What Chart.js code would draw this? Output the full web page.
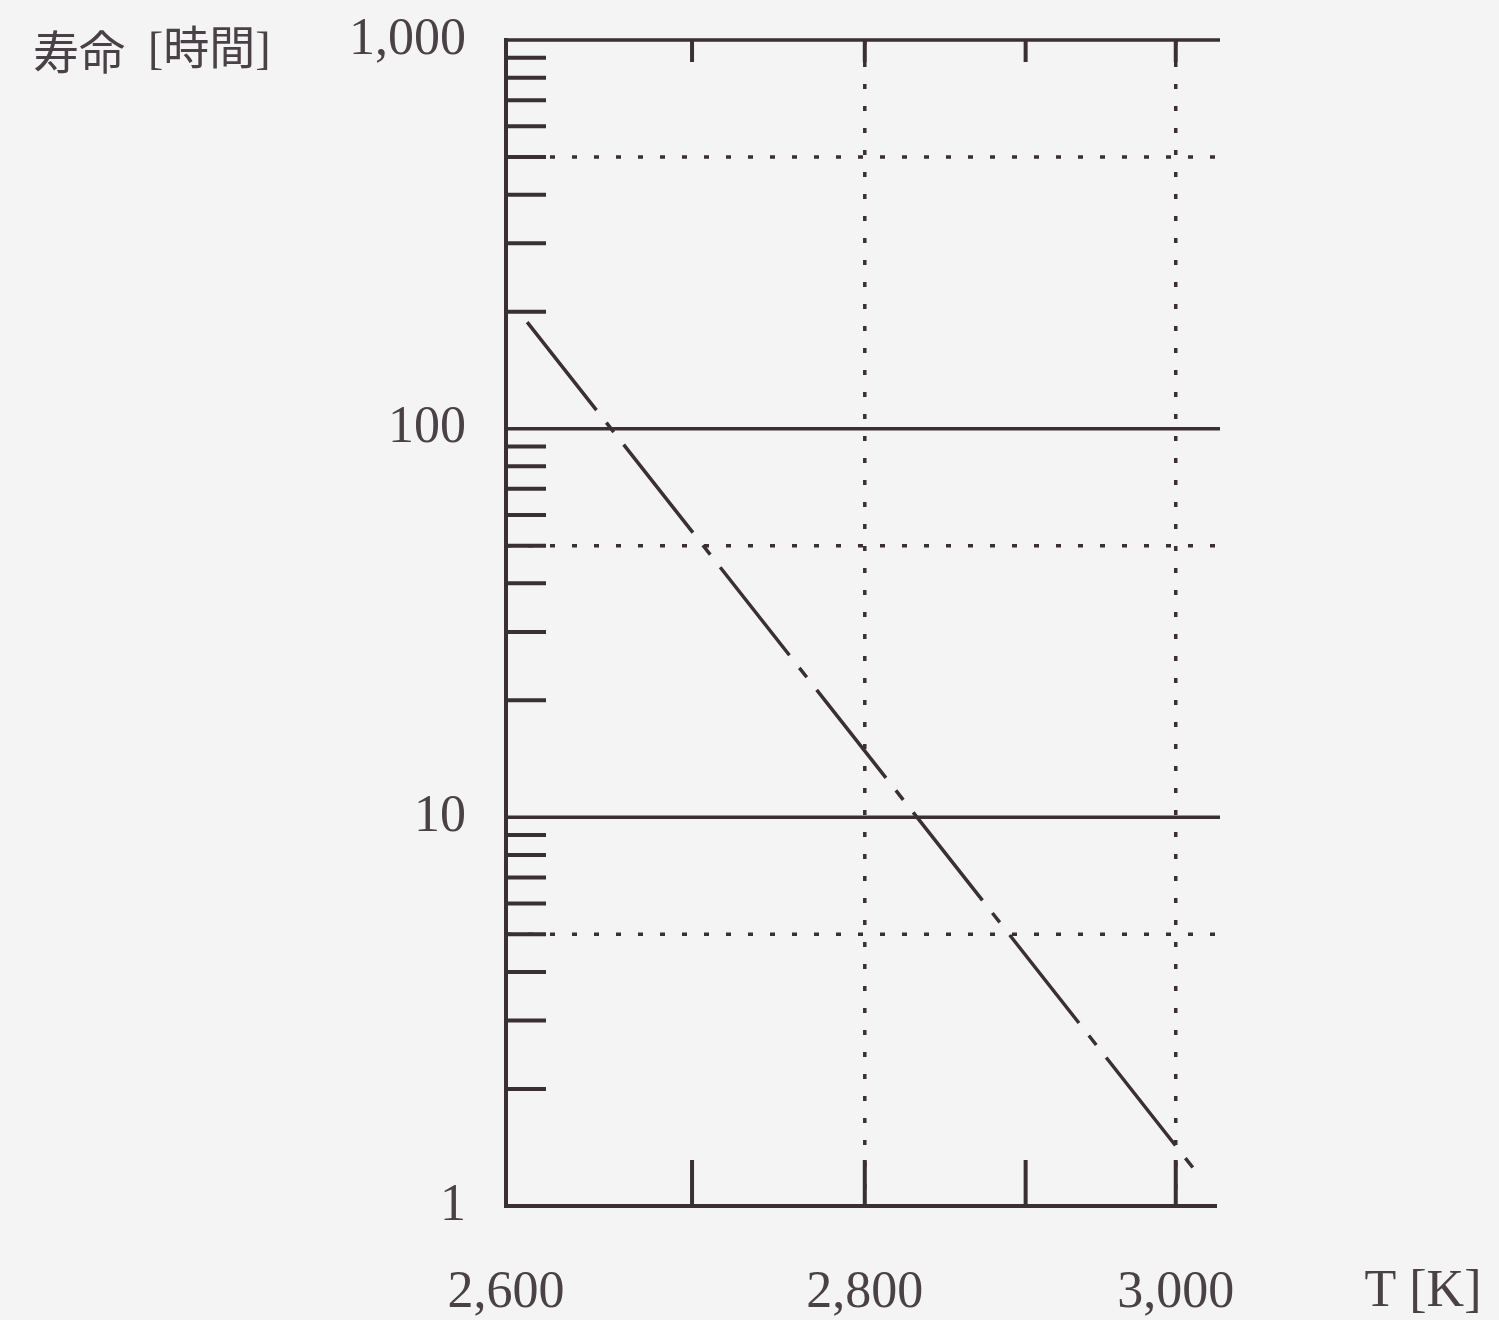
<!DOCTYPE html>
<html>
<head>
<meta charset="utf-8">
<script src="https://cdn.jsdelivr.net/npm/chart.js@4"></script>
<style>
  html, body { margin: 0; padding: 0; background: #f4f4f5; }
  canvas { display: block; }
</style>
</head>
<body>
<canvas id="lifeChart" width="1499" height="1320"></canvas>
<script>
// données
const tempK = [2611, 3016];          // température [K]
const lifeHours = [188, 1.2];        // durée de vie [h]
const tempTicks = [2600, 2700, 2800, 2900, 3000];
const tempLabeled = [2600, 2800, 3000];
const tempDotted = [2800, 3000];
const lifeMajor = [1, 10, 100, 1000];
const lifeSolid = [10, 100, 1000];
const lifeDotted = [5, 50, 500];
const lifeMinor = [2, 3, 4, 5, 6, 7, 8, 9, 20, 30, 40, 50, 60, 70, 80, 90, 200, 300, 400, 500, 600, 700, 800, 900];

const INK = '#3a2f33';
const TXT = '#4a4146';
const SERIF = '"Liberation Serif", "DejaVu Serif", serif';

// axe x en 1/T
const inv = t => 1e4 / t;

const frame = {
  id: 'frame',
  beforeDatasetsDraw(chart) {
    const { ctx, chartArea: a, scales: { x, y } } = chart;
    const line = (x1, y1, x2, y2) => { ctx.beginPath(); ctx.moveTo(x1, y1); ctx.lineTo(x2, y2); ctx.stroke(); };
    ctx.save();
    ctx.strokeStyle = INK;
    ctx.lineCap = 'butt';

    // grilles pointillées
    ctx.lineWidth = 3.5;
    ctx.setLineDash([5, 17]);
    lifeDotted.forEach(v => { const py = y.getPixelForValue(v); line(a.left, py, a.right + 8, py); });
    tempDotted.forEach(t => { const px = x.getPixelForValue(inv(t)); line(px, a.top, px, a.bottom); });
    ctx.setLineDash([]);

    // lignes pleines
    ctx.lineWidth = 3.5;
    lifeSolid.forEach(v => { const py = y.getPixelForValue(v); line(a.left, py, a.right + 4, py); });

    // petites graduations
    ctx.lineWidth = 4;
    lifeMinor.forEach(v => { const py = y.getPixelForValue(v); line(a.left, py, a.left + 40, py); });
    tempTicks.slice(1).forEach(t => {
      const px = x.getPixelForValue(inv(t));
      line(px, a.top, px, a.top + 22);
      line(px, a.bottom, px, a.bottom - 46);
    });
    ctx.restore();
  },
  afterDraw(chart) {
    const { ctx } = chart;
    ctx.save();
    ctx.fillStyle = TXT;
    ctx.textBaseline = 'middle';
    ctx.textAlign = 'left';
    ctx.font = '46px "Noto Sans CJK JP", ' + SERIF;
    ctx.fillText('寿命', 33, 52);
    ctx.font = '46px ' + SERIF + ', "Noto Sans CJK JP"';
    ctx.fillText('[時間]', 148, 52);
    ctx.font = '52px ' + SERIF;
    ctx.textAlign = 'center';
    ctx.fillText('T [K]', 1423, 1292);
    ctx.restore();
  }
};

new Chart(document.getElementById('lifeChart'), {
  type: 'line',
  data: {
    datasets: [{
      data: tempK.map((t, i) => ({ x: inv(t), y: lifeHours[i] })),
      borderColor: INK,
      borderWidth: 3.5,
      borderDash: [112, 16, 12, 16],
      pointRadius: 0,
      tension: 0,
      fill: false
    }]
  },
  options: {
    responsive: false,
    animation: false,
    layout: { padding: { left: 0, right: 283, top: 40, bottom: 0 } },
    plugins: { legend: { display: false }, tooltip: { enabled: false } },
    scales: {
      x: {
        type: 'linear',
        reverse: true,
        min: inv(3028),
        max: inv(2600),
        afterBuildTicks: s => { s.ticks = tempTicks.map(t => ({ value: inv(t) })); },
        afterFit: s => { s.height = 114; s.paddingLeft = 0; s.paddingRight = 0; },
        grid: { display: false, drawTicks: false },
        border: { display: true, width: 4, color: INK },
        ticks: {
          autoSkip: false,
          maxRotation: 0,
          padding: 56,
          color: TXT,
          font: { family: SERIF, size: 52 },
          callback: v => {
            const t = Math.round(1e4 / v);
            return tempLabeled.includes(t) ? t.toLocaleString('en-US') : '';
          }
        }
      },
      y: {
        type: 'logarithmic',
        min: 1,
        max: 1000,
        afterBuildTicks: s => { s.ticks = lifeMajor.concat(lifeMinor).sort((a, b) => a - b).map(v => ({ value: v })); },
        afterFit: s => { s.width = 506; s.paddingTop = 0; s.paddingBottom = 0; },
        grid: { display: false, drawTicks: false },
        border: { display: true, width: 4, color: INK },
        ticks: {
          autoSkip: false,
          padding: 40,
          color: TXT,
          font: { family: SERIF, size: 52 },
          callback: v => lifeMajor.includes(v) ? v.toLocaleString('en-US') : ''
        }
      }
    }
  },
  plugins: [frame]
});
</script>
</body>
</html>
